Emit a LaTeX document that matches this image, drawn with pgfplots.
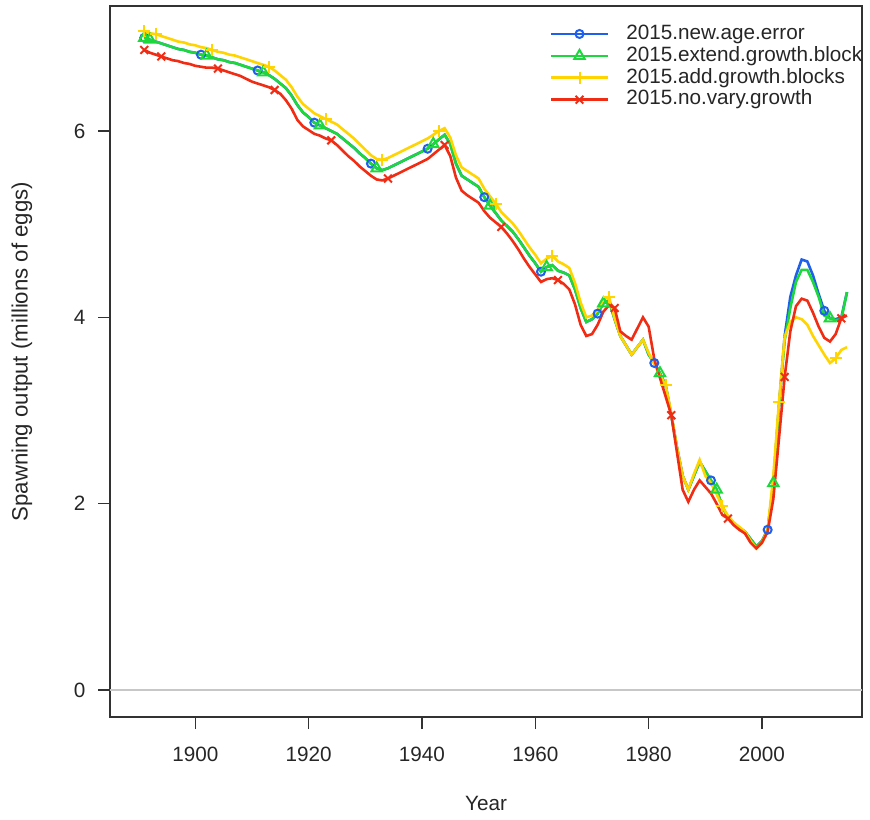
\documentclass[border=0pt]{standalone}
\usepackage{pgfplots}
\usepackage{pgfplotstable}
\usepackage{fontspec}
\setmainfont{Liberation Sans}
\pgfplotsset{compat=1.18}
\definecolor{cBlue}{RGB}{30,95,235}
\definecolor{cGreen}{RGB}{30,215,60}
\definecolor{cYellow}{RGB}{255,212,0}
\definecolor{cRed}{RGB}{240,45,20}
\definecolor{cAxis}{RGB}{50,50,50}

\pgfplotstableread{
year B G Y R
1891 7.00 7.00 7.07 6.87
1892 6.98 6.98 7.05 6.84
1893 6.96 6.96 7.04 6.82
1894 6.94 6.94 7.02 6.80
1895 6.92 6.92 7.00 6.78
1896 6.90 6.90 6.98 6.76
1897 6.88 6.88 6.96 6.75
1898 6.87 6.87 6.95 6.73
1899 6.85 6.85 6.93 6.72
1900 6.84 6.84 6.92 6.70
1901 6.82 6.82 6.90 6.69
1902 6.81 6.81 6.89 6.68
1903 6.79 6.79 6.87 6.68
1904 6.77 6.77 6.85 6.67
1905 6.76 6.76 6.84 6.65
1906 6.74 6.74 6.82 6.63
1907 6.73 6.73 6.81 6.61
1908 6.71 6.71 6.79 6.59
1909 6.69 6.69 6.77 6.56
1910 6.67 6.67 6.75 6.53
1911 6.65 6.65 6.73 6.51
1912 6.63 6.63 6.71 6.49
1913 6.60 6.60 6.69 6.47
1914 6.56 6.56 6.65 6.44
1915 6.51 6.51 6.60 6.40
1916 6.46 6.46 6.55 6.33
1917 6.38 6.38 6.47 6.24
1918 6.28 6.28 6.37 6.12
1919 6.20 6.20 6.29 6.05
1920 6.15 6.15 6.24 6.01
1921 6.09 6.09 6.19 5.97
1922 6.06 6.06 6.16 5.95
1923 6.03 6.03 6.13 5.92
1924 6.00 6.00 6.10 5.90
1925 5.97 5.97 6.07 5.85
1926 5.92 5.92 6.02 5.79
1927 5.87 5.87 5.97 5.73
1928 5.82 5.82 5.92 5.68
1929 5.76 5.76 5.86 5.62
1930 5.71 5.71 5.80 5.57
1931 5.65 5.65 5.74 5.52
1932 5.60 5.60 5.70 5.48
1933 5.58 5.58 5.69 5.47
1934 5.60 5.60 5.71 5.49
1935 5.63 5.63 5.74 5.52
1936 5.66 5.66 5.77 5.55
1937 5.69 5.69 5.80 5.58
1938 5.72 5.72 5.83 5.61
1939 5.75 5.75 5.86 5.64
1940 5.78 5.78 5.89 5.67
1941 5.81 5.81 5.92 5.70
1942 5.86 5.86 5.96 5.75
1943 5.91 5.91 6.00 5.80
1944 5.96 5.96 6.03 5.85
1945 5.86 5.86 5.93 5.73
1946 5.65 5.65 5.74 5.50
1947 5.52 5.52 5.61 5.36
1948 5.48 5.48 5.57 5.31
1949 5.44 5.44 5.53 5.27
1950 5.40 5.40 5.49 5.23
1951 5.29 5.29 5.38 5.14
1952 5.20 5.20 5.30 5.07
1953 5.12 5.12 5.22 5.02
1954 5.04 5.04 5.13 4.97
1955 4.98 4.98 5.07 4.90
1956 4.92 4.92 5.01 4.82
1957 4.84 4.84 4.93 4.73
1958 4.75 4.75 4.84 4.63
1959 4.66 4.66 4.75 4.54
1960 4.58 4.58 4.67 4.46
1961 4.49 4.49 4.58 4.38
1962 4.54 4.54 4.63 4.41
1963 4.56 4.56 4.66 4.42
1964 4.50 4.50 4.60 4.40
1965 4.48 4.48 4.57 4.36
1966 4.45 4.45 4.53 4.30
1967 4.30 4.30 4.37 4.14
1968 4.10 4.10 4.16 3.92
1969 3.95 3.95 4.00 3.80
1970 3.98 3.98 4.02 3.82
1971 4.04 4.04 4.08 3.92
1972 4.15 4.15 4.19 4.06
1973 4.18 4.18 4.22 4.13
1974 3.98 3.98 3.99 4.10
1975 3.80 3.80 3.80 3.85
1976 3.70 3.70 3.70 3.80
1977 3.60 3.60 3.60 3.76
1978 3.68 3.68 3.68 3.88
1979 3.76 3.76 3.76 4.00
1980 3.60 3.60 3.62 3.90
1981 3.51 3.51 3.50 3.55
1982 3.40 3.40 3.38 3.35
1983 3.27 3.27 3.27 3.15
1984 2.95 2.95 2.97 2.95
1985 2.60 2.60 2.60 2.55
1986 2.30 2.30 2.30 2.15
1987 2.15 2.15 2.15 2.02
1988 2.30 2.30 2.32 2.15
1989 2.45 2.45 2.47 2.25
1990 2.35 2.35 2.30 2.18
1991 2.25 2.25 2.22 2.11
1992 2.15 2.15 2.10 2.00
1993 1.97 1.97 1.97 1.88
1994 1.85 1.85 1.87 1.84
1995 1.79 1.79 1.80 1.77
1996 1.74 1.74 1.75 1.72
1997 1.70 1.70 1.70 1.68
1998 1.62 1.62 1.60 1.58
1999 1.54 1.54 1.52 1.52
2000 1.60 1.60 1.58 1.58
2001 1.72 1.72 1.72 1.70
2002 2.20 2.22 2.30 2.05
2003 3.05 3.05 3.09 2.70
2004 3.80 3.75 3.79 3.36
2005 4.22 4.10 3.95 3.85
2006 4.45 4.38 4.00 4.12
2007 4.62 4.51 3.98 4.20
2008 4.60 4.51 3.92 4.18
2009 4.45 4.38 3.80 4.05
2010 4.25 4.22 3.70 3.90
2011 4.07 4.02 3.60 3.78
2012 3.99 3.99 3.51 3.74
2013 3.98 3.97 3.56 3.82
2014 4.00 3.98 3.65 3.99
2015 4.27 4.27 3.68 4.02
}\datatable

\begin{document}
\begin{tikzpicture}
\begin{axis}[
  scale only axis, width=752pt, height=711pt,
  xmin=1884.95, xmax=2017.65, ymin=-0.29, ymax=7.342,
  xtick={1900,1920,1940,1960,1980,2000}, ytick={0,2,4,6},
  xtick pos=bottom, ytick pos=left,
  tick align=outside, major tick length=12pt,
  tick style={cAxis, line width=1.2pt},
  axis line style={cAxis, line width=1.3pt},
  /pgf/number format/assume math mode=true,
  /pgf/number format/set thousands separator={},
  tick label style={font=\fontsize{20.7}{24}\selectfont, text=black!85},
  xticklabel style={anchor=center, yshift=-25pt},
  yticklabel style={anchor=east, xshift=-8pt},
  xlabel={Year}, ylabel={Spawning output (millions of eggs)},
  every axis x label/.style={at={(axis description cs:0.5,0)}, anchor=center, yshift=-86pt,
    font=\fontsize{20.7}{24}\selectfont, text=black!85},
  every axis y label/.style={at={(axis description cs:0,0.5)}, anchor=center, rotate=90, yshift=88pt, xshift=10pt,
    font=\fontsize{22.2}{26}\selectfont, text=black!85},
  line width=2.6pt,
  legend image code/.code={\draw[#1, mark indices={2}] plot coordinates {(0pt,0pt) (28.5pt,0pt) (57pt,0pt)};},
  legend style={draw=none, fill=none, at={(0.579,0.979)}, anchor=north west,
    font=\fontsize{20.7}{24}\selectfont, text=black!85,
    nodes={inner sep=0pt, text height=15pt, text depth=4.5pt},
    row sep=2.4pt, column sep=0pt,
    /tikz/every odd column/.append style={column sep=17pt}},
  legend cell align=left,
]
\addplot[forget plot, color=black!22, line width=1.4pt] coordinates {(1884.95,0) (2017.65,0)};
\addplot[cBlue, line width=2.6pt, mark=o, mark size=4pt, mark options={line width=2pt, solid},
  mark indices={1,11,21,31,41,51,61,71,81,91,101,111,121}]
  table[x=year, y=B] {\datatable};
\addlegendentry{2015.new.age.error}
\addplot[cGreen, line width=2.6pt, mark=triangle, mark size=6pt, mark options={line width=2pt, solid},
  mark indices={1,2,12,22,32,42,52,62,72,82,92,102,112,122}]
  table[x=year, y=G] {\datatable};
\addlegendentry{2015.extend.growth.block}
\addplot[cYellow, line width=2.6pt, mark=+, mark size=6pt, mark options={line width=2pt, solid},
  mark indices={1,3,13,23,33,43,53,63,73,83,93,103,113,123}]
  table[x=year, y=Y] {\datatable};
\addlegendentry{2015.add.growth.blocks}
\addplot[cRed, line width=2.6pt, mark=x, mark size=5.5pt, mark options={line width=2pt, solid},
  mark indices={1,4,14,24,34,44,54,64,74,84,94,104,114,124}]
  table[x=year, y=R] {\datatable};
\addlegendentry{2015.no.vary.growth}
\end{axis}
\path[use as bounding box] ([xshift=-110pt,yshift=-102pt]current axis.south west) rectangle ([xshift=8pt,yshift=6pt]current axis.north east);
\end{tikzpicture}
\end{document}
